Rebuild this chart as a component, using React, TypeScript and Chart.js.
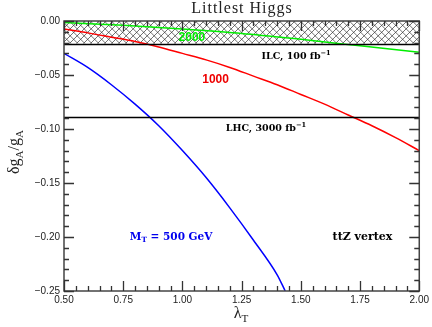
import React, { useEffect, useRef } from "react";
import { Chart, registerables } from "chart.js";
Chart.register(...registerables);

// M_T = 500 GeV
const lamBlue = [0.5, 0.6, 0.7, 0.8, 0.9, 1.0, 1.1, 1.2, 1.3, 1.4, 1.434];
const dgBlue = [-0.030, -0.043, -0.059, -0.077, -0.097, -0.120, -0.145, -0.173, -0.203, -0.235, -0.25];
// M_T = 1000 GeV
const lamRed = [0.5, 0.6, 0.7, 0.8, 0.9, 1.0, 1.1, 1.2, 1.3, 1.4, 1.5, 1.6, 1.7, 1.8, 1.9, 2.0];
const dgRed = [-0.0075, -0.011, -0.015, -0.019, -0.024, -0.030, -0.036, -0.043, -0.051, -0.059, -0.068, -0.077, -0.087, -0.097, -0.108, -0.120];
// M_T = 2000 GeV
const lamGreen = [0.5, 0.75, 1.0, 1.25, 1.5, 1.75, 2.0];
const dgGreen = [-0.0015, -0.004, -0.0075, -0.0115, -0.017, -0.023, -0.029];

const ilcLimit = -0.021;
const lhcLimit = -0.089;

const xTicks = [0.5, 0.75, 1.0, 1.25, 1.5, 1.75, 2.0];
const yTicks = [0, -0.05, -0.1, -0.15, -0.2, -0.25];
const xMinorStep = 0.05;
const yMinorStep = 0.01;

const toPts = (xs: number[], ys: number[]) => xs.map((x, i) => ({ x, y: ys[i] }));

type Part = { t: string; sub?: boolean; sup?: boolean };

function drawRich(ctx: CanvasRenderingContext2D, parts: Part[], x: number, y: number, size: number, family: string, weight: string, color: string, align: "left" | "center" = "left", spacing = 0) {
  ctx.save();
  ctx.fillStyle = color;
  ctx.textBaseline = "middle";
  ctx.textAlign = "left";
  (ctx as any).letterSpacing = spacing + "px";
  const font = (s: number) => `${weight} ${s}px ${family}`;
  let total = 0;
  for (const p of parts) {
    ctx.font = font(p.sub || p.sup ? size * 0.7 : size);
    total += ctx.measureText(p.t).width;
  }
  let cx = align === "center" ? x - total / 2 : x;
  for (const p of parts) {
    const s = p.sub || p.sup ? size * 0.7 : size;
    ctx.font = font(s);
    const dy = p.sub ? size * 0.3 : p.sup ? -size * 0.35 : 0;
    ctx.fillText(p.t, cx, y + dy);
    cx += ctx.measureText(p.t).width;
  }
  ctx.restore();
}

function drawTicks(ctx: CanvasRenderingContext2D, a: any, sx: any, sy: any) {
  ctx.save();
  ctx.setLineDash([]);
  ctx.lineWidth = 1.3;
  ctx.strokeStyle = "#333333";
  const nx = Math.round((2.0 - 0.5) / xMinorStep);
  for (let i = 0; i <= nx; i++) {
    const v = 0.5 + i * xMinorStep;
    const major = i % 5 === 0;
    const len = major ? 10 : 5;
    const px = Math.round(sx.getPixelForValue(v)) + 0.5;
    ctx.beginPath();
    ctx.moveTo(px, a.bottom);
    ctx.lineTo(px, a.bottom - len);
    ctx.moveTo(px, a.top);
    ctx.lineTo(px, a.top + len);
    ctx.stroke();
  }
  const ny = Math.round(0.25 / yMinorStep);
  for (let i = 0; i <= ny; i++) {
    const v = -i * yMinorStep;
    const major = i % 5 === 0;
    const len = major ? 10 : 5;
    const py = Math.round(sy.getPixelForValue(v)) + 0.5;
    ctx.beginPath();
    ctx.moveTo(a.left, py);
    ctx.lineTo(a.left + len, py);
    ctx.moveTo(a.right, py);
    ctx.lineTo(a.right - len, py);
    ctx.stroke();
  }
  ctx.restore();
}

const overlay = {
  id: "overlay",
  beforeDatasetsDraw(chart: any) {
    const { ctx, chartArea: a, scales } = chart;
    const y0 = scales.y.getPixelForValue(0);
    const y1 = scales.y.getPixelForValue(ilcLimit);
    ctx.save();
    ctx.beginPath();
    ctx.rect(a.left, y0, a.right - a.left, y1 - y0);
    ctx.clip();
    ctx.strokeStyle = "#333";
    ctx.lineWidth = 0.7;
    const sp = 7;
    const h = y1 - y0;
    ctx.beginPath();
    for (let x = a.left - h - sp; x < a.right + h + sp; x += sp) {
      ctx.moveTo(x, y0);
      ctx.lineTo(x + h, y1);
      ctx.moveTo(x, y1);
      ctx.lineTo(x + h, y0);
    }
    ctx.stroke();
    ctx.restore();
  },
  afterDraw(chart: any) {
    const { ctx, chartArea: a, scales } = chart;
    const sx = scales.x, sy = scales.y;
    ctx.save();
    // limit lines
    ctx.strokeStyle = "#000";
    ctx.lineWidth = 1.5;
    for (const v of [ilcLimit, lhcLimit]) {
      const py = Math.round(sy.getPixelForValue(v)) + 0.5;
      ctx.beginPath();
      ctx.moveTo(a.left, py);
      ctx.lineTo(a.right, py);
      ctx.stroke();
    }
    // frame
    ctx.strokeStyle = "#444";
    ctx.lineWidth = 1.5;
    ctx.strokeRect(a.left, a.top, a.right - a.left, a.bottom - a.top);
    ctx.restore();
    drawTicks(ctx, a, sx, sy);

    const fam = "'DejaVu Serif'";
    const P = (x: number, y: number) => [sx.getPixelForValue(x), sy.getPixelForValue(y)];
    let [px, py] = P(1.04, -0.015);
    drawRich(ctx, [{ t: "2000" }], px, py, 12, "'Liberation Sans'", "bold", "#00ee00", "center");
    [px, py] = P(1.14, -0.054);
    drawRich(ctx, [{ t: "1000" }], px, py, 12, "'Liberation Sans'", "bold", "#ee0000", "center");
    [px, py] = P(1.334, -0.033);
    drawRich(ctx, [{ t: "ILC, 100 fb" }, { t: "−1", sup: true }], px, py, 9.5, fam, "bold", "#000");
    [px, py] = P(1.183, -0.1);
    drawRich(ctx, [{ t: "LHC, 3000 fb" }, { t: "−1", sup: true }], px, py, 9.5, fam, "bold", "#000");
    [px, py] = P(0.778, -0.2);
    drawRich(ctx, [{ t: "M" }, { t: "T", sub: true }, { t: " = 500 GeV" }], px, py, 10.5, fam, "bold", "#0000ee");
    [px, py] = P(1.634, -0.2);
    drawRich(ctx, [{ t: "ttZ vertex" }], px, py, 11, fam, "bold", "#000");

    // title
    drawRich(ctx, [{ t: "Littlest Higgs" }], 242, 9, 16, "'Liberation Serif'", "normal", "#222", "center", 1);
    // x title
    drawRich(ctx, [{ t: "λ" }, { t: "T", sub: true }], 241, 314, 16, "'Liberation Serif'", "normal", "#222", "center");
    // y title
    ctx.save();
    ctx.translate(15, 152);
    ctx.rotate(-Math.PI / 2);
    drawRich(ctx, [{ t: "δg" }, { t: "A", sub: true }, { t: "/g" }, { t: "A", sub: true }], 0, 0, 16, "'Liberation Serif'", "normal", "#222", "center");
    ctx.restore();
  },
};

export default function App() {
  const ref = useRef<HTMLCanvasElement>(null);
  useEffect(() => {
    if (!ref.current) return;
    const chart = new Chart(ref.current, {
      type: "line",
      data: {
        datasets: [
          { data: toPts(lamBlue, dgBlue), borderColor: "#0000ff", borderWidth: 1.5, pointRadius: 0, cubicInterpolationMode: "monotone" },
          { data: toPts(lamRed, dgRed), borderColor: "#ff0000", borderWidth: 1.5, pointRadius: 0, cubicInterpolationMode: "monotone" },
          { data: toPts(lamGreen, dgGreen), borderColor: "#00ee00", borderWidth: 1.5, pointRadius: 0, cubicInterpolationMode: "monotone" },
        ] as any,
      },
      options: {
        animation: false,
        responsive: false,
        maintainAspectRatio: false,
        layout: { padding: { top: 21, right: 12, left: 0, bottom: 0 } },
        plugins: { legend: { display: false }, tooltip: { enabled: false }, title: { display: false } },
        scales: {
          x: {
            type: "linear",
            min: 0.5,
            max: 2.0,
            grid: { display: false, drawTicks: false },
            border: { display: false },
            afterBuildTicks: (s: any) => { s.ticks = xTicks.map((v) => ({ value: v })); },
            afterFit: (s: any) => { s.height = 36; },
            ticks: {
              padding: 3,
              maxRotation: 0,
              color: "#222",
              font: { family: "'Liberation Sans'", size: 10 },
              callback: (v: any) => Number(v).toFixed(2),
            },
          },
          y: {
            type: "linear",
            min: -0.25,
            max: 0,
            grid: { display: false, drawTicks: false },
            border: { display: false },
            afterBuildTicks: (s: any) => { s.ticks = yTicks.map((v) => ({ value: v })); },
            afterFit: (s: any) => { s.width = 64; },
            ticks: {
              padding: 4,
              color: "#222",
              font: { family: "'Liberation Sans'", size: 10 },
              callback: (v: any) => (Math.abs(v) < 1e-9 ? "0.00" : "−" + Math.abs(Number(v)).toFixed(2)),
            },
          },
        },
      } as any,
      plugins: [overlay],
    });
    return () => chart.destroy();
  }, []);
  return (
    <div style={{ position: "fixed", left: 0, top: 0, width: 432, height: 327, background: "#fff" }}>
      <canvas ref={ref} width={432} height={327} style={{ width: 432, height: 327 }} />
    </div>
  );
}
